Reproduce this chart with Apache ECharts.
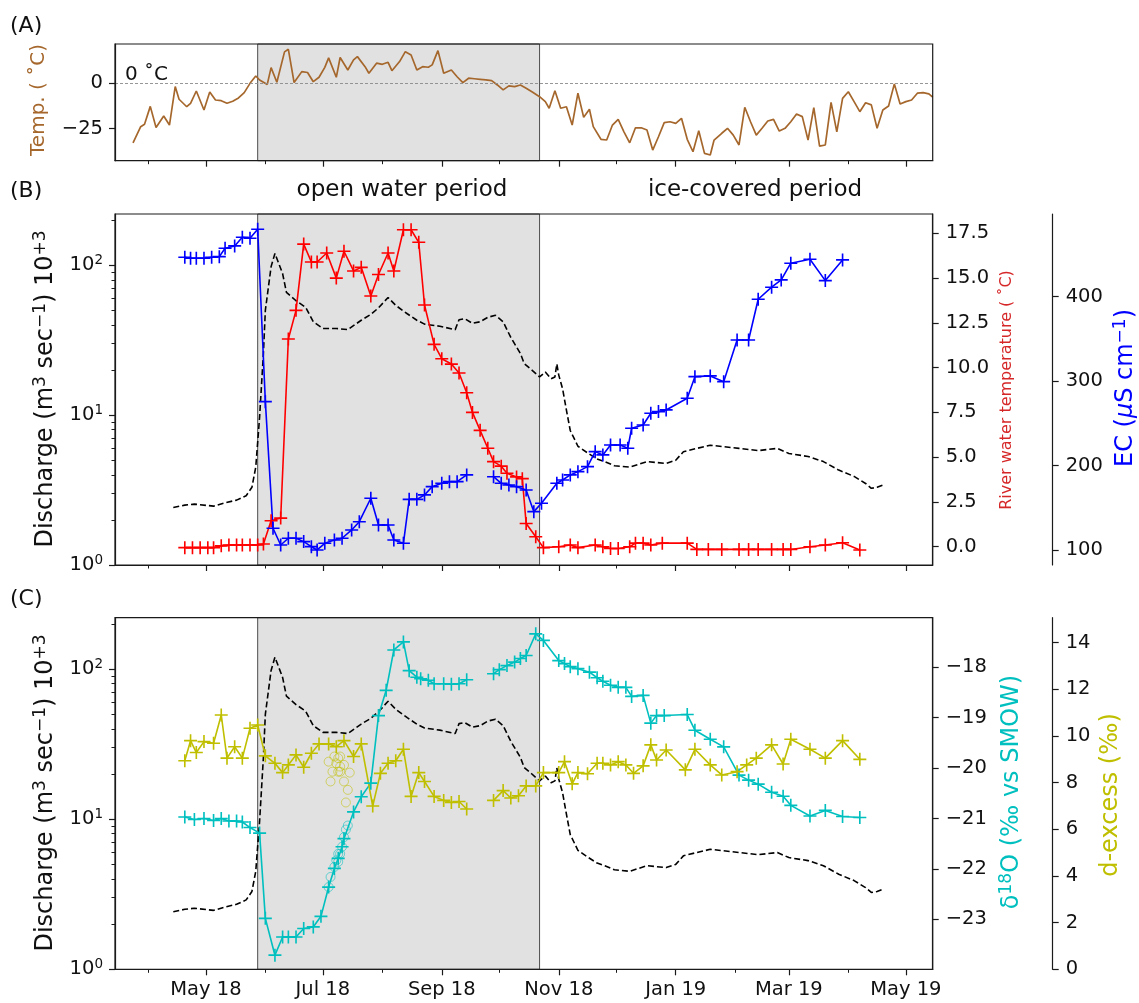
<!DOCTYPE html>
<html><head><meta charset="utf-8">
<script src="https://cdn.jsdelivr.net/npm/echarts@6/dist/echarts.min.js"></script>
<style>html,body{margin:0;padding:0;background:#fff}#c{width:1139px;height:1003px}</style>
</head><body><div id="c"></div>
<script>
// ---------------- DATA ----------------
const monthNames = ['Jan','Feb','Mar','Apr','May','Jun','Jul','Aug','Sep','Oct','Nov','Dec'];
const majorTickDates = ['2018-05-01','2018-07-01','2018-09-01','2018-11-01','2019-01-01','2019-03-01','2019-05-01'];
const minorTickDates = ['2018-04-01','2018-06-01','2018-08-01','2018-10-01','2018-12-01','2019-02-01','2019-04-01'];
const openWaterStart = '2018-05-28';
const openWaterEnd = '2018-10-22';
const airTempTicks = [-25, 0];
const dischargeMajorTicks = [1, 10, 100];
const dischargeMinorTicks = [2,3,4,5,6,7,8,9,20,30,40,50,60,70,80,90,200];
const riverTempTicks = [0, 2.5, 5, 7.5, 10, 12.5, 15, 17.5];
const ecTicks = [100, 200, 300, 400];
const d18OTicks = [-23, -22, -21, -20, -19, -18];
const dExcessTicks = [0, 2, 4, 6, 8, 10, 12, 14];

// (A) air temperature
const airTempDates = ['2018-03-24','2018-03-28','2018-03-30','2018-04-02','2018-04-05','2018-04-09','2018-04-12','2018-04-15','2018-04-17','2018-04-21','2018-04-23','2018-04-26','2018-04-30',
'2018-05-03','2018-05-06','2018-05-09','2018-05-12','2018-05-15','2018-05-18','2018-05-21','2018-05-24','2018-05-27','2018-05-29',
'2018-06-02','2018-06-04','2018-06-07','2018-06-11','2018-06-13','2018-06-16','2018-06-20','2018-06-23','2018-06-26','2018-06-29',
'2018-07-02','2018-07-04','2018-07-08','2018-07-10','2018-07-14','2018-07-17','2018-07-19','2018-07-23','2018-07-25','2018-07-29',
'2018-08-01','2018-08-04','2018-08-06','2018-08-10','2018-08-13','2018-08-16','2018-08-19','2018-08-22','2018-08-25','2018-08-27','2018-08-30',
'2018-09-02','2018-09-06','2018-09-09','2018-09-12','2018-09-15','2018-09-18','2018-09-21','2018-09-24','2018-09-27','2018-09-30',
'2018-10-03','2018-10-06','2018-10-09','2018-10-12','2018-10-15','2018-10-18','2018-10-22','2018-10-25','2018-10-27','2018-10-30',
'2018-11-02','2018-11-05','2018-11-08','2018-11-11','2018-11-14','2018-11-17','2018-11-19','2018-11-23','2018-11-26','2018-11-29',
'2018-12-02','2018-12-05','2018-12-08','2018-12-11','2018-12-14','2018-12-17','2018-12-20','2018-12-23','2018-12-26','2018-12-29',
'2019-01-01','2019-01-04','2019-01-07','2019-01-10','2019-01-13','2019-01-16','2019-01-19','2019-01-21','2019-01-25','2019-01-28','2019-01-31',
'2019-02-03','2019-02-06','2019-02-09','2019-02-12','2019-02-15','2019-02-18','2019-02-21','2019-02-24','2019-02-27',
'2019-03-02','2019-03-05','2019-03-08','2019-03-11','2019-03-14','2019-03-17','2019-03-20','2019-03-23','2019-03-26','2019-03-29',
'2019-04-01','2019-04-04','2019-04-07','2019-04-10','2019-04-13','2019-04-16','2019-04-19','2019-04-22','2019-04-25','2019-04-28',
'2019-05-01','2019-05-04','2019-05-07','2019-05-10','2019-05-13','2019-05-15'];
const airTempValues = [-32.7,-23.9,-22.6,-12.8,-24.3,-18.1,-23.0,-2.0,-8.9,-13.0,-11.1,-4.4,-14.8,
-4.9,-9.3,-9.7,-11.1,-10.0,-8.2,-5.3,-0.2,3.8,1.6,
-0.8,8.4,0.4,17.0,18.4,0.2,6.2,5.7,0.7,3.1,
8.5,13.7,3.1,13.9,7.1,12.6,14.4,8.9,5.3,10.8,
10.2,11.3,6.7,11.7,17.1,15.3,7.1,8.9,8.6,9.9,17.7,
5.3,7.1,3.4,0.2,2.6,2.3,2.0,1.7,1.3,-1.1,
-3.8,-1.6,-2.0,-1.1,-2.9,-4.8,-7.5,-10.2,-13.8,-4.2,
-13.8,-13.0,-23.0,-5.6,-18.8,-14.4,-23.9,-30.8,-31.2,-23.0,
-19.9,-26.7,-32.7,-24.5,-24.5,-25.7,-36.7,-29.4,-21.7,-21.2,
-22.1,-19.3,-30.8,-37.6,-26.1,-38.5,-39.4,-31.2,-27.5,-24.8,-28.5,
-33.9,-13.3,-21.2,-28.5,-24.8,-20.8,-19.9,-26.3,-24.8,
-21.2,-17.0,-18.4,-31.2,-13.5,-34.5,-33.9,-10.6,-26.7,-8.4,
-4.8,-10.2,-15.7,-10.8,-12.0,-24.8,-14.8,-12.6,-0.5,-11.5,
-10.2,-9.3,-5.6,-5.3,-6.0,-7.8];

// discharge (m3/s x 1000), shown in (B) and (C)
const dischargeDates = ['2018-04-14','2018-04-20','2018-04-25','2018-05-05','2018-05-11','2018-05-17','2018-05-22','2018-05-25','2018-05-27','2018-05-29','2018-05-31',
'2018-06-01','2018-06-04','2018-06-06','2018-06-10','2018-06-12','2018-06-17','2018-06-22','2018-06-26',
'2018-07-01','2018-07-08','2018-07-14','2018-07-21','2018-07-26','2018-07-30',
'2018-08-04','2018-08-08','2018-08-14','2018-08-19','2018-08-23','2018-08-31',
'2018-09-08','2018-09-10','2018-09-13','2018-09-17','2018-09-21','2018-09-25','2018-09-29',
'2018-10-03','2018-10-07','2018-10-12','2018-10-14','2018-10-18','2018-10-22','2018-10-25','2018-10-28','2018-10-30','2018-10-31',
'2018-11-01','2018-11-03','2018-11-05','2018-11-07','2018-11-11','2018-11-16','2018-11-21','2018-11-25','2018-11-30',
'2018-12-08','2018-12-17','2018-12-27',
'2019-01-01','2019-01-05','2019-01-12','2019-01-19','2019-02-03','2019-02-13','2019-02-23',
'2019-03-01','2019-03-11','2019-03-19','2019-03-27','2019-04-04','2019-04-10','2019-04-13','2019-04-16','2019-04-19'];
const dischargeValues = [2.42,2.51,2.55,2.47,2.6,2.71,2.9,3.3,4.5,9.7,26,
50,98,120,88,66,58,52.5,42,
37.9,37.9,37.2,43,47,52,
61,54,47.5,43,40.5,39.2,
37.2,43.3,44,41,42,45,46.4,
42,33,25.8,22.1,20,18,19.4,17.5,18,22,
18.5,15,10.8,7.9,6.2,5.6,5.1,4.9,4.6,
4.5,4.9,4.76,
5.0,5.7,6.0,6.3,6.0,5.8,6.0,
5.55,5.3,4.9,4.3,3.9,3.5,3.25,3.3,3.42];

// (B) river water temperature
const riverTempDates = ['2018-04-20','2018-04-24','2018-04-28','2018-05-02','2018-05-05','2018-05-09','2018-05-13','2018-05-17','2018-05-20','2018-05-24','2018-05-28','2018-05-31',
'2018-06-04','2018-06-09','2018-06-13','2018-06-17','2018-06-21','2018-06-25','2018-06-28',
'2018-07-03','2018-07-08','2018-07-12','2018-07-17','2018-07-21','2018-07-26','2018-07-30',
'2018-08-04','2018-08-07','2018-08-12','2018-08-16','2018-08-20','2018-08-23','2018-08-28',
'2018-09-01','2018-09-06','2018-09-10','2018-09-14','2018-09-17','2018-09-21','2018-09-25','2018-09-28',
'2018-10-02','2018-10-05','2018-10-10','2018-10-13','2018-10-15','2018-10-20','2018-10-24',
'2018-11-01','2018-11-07','2018-11-11','2018-11-20','2018-11-24','2018-11-28',
'2018-12-02','2018-12-08','2018-12-11','2018-12-15','2018-12-19','2018-12-25',
'2019-01-07','2019-01-12','2019-01-18','2019-01-25','2019-02-03','2019-02-08','2019-02-13','2019-02-20','2019-02-26',
'2019-03-02','2019-03-12','2019-03-20','2019-03-29','2019-04-07'];
const riverTempValues = [-0.05,-0.05,-0.05,-0.05,-0.05,0.05,0.1,0.1,0.1,0.1,0.1,0.15,
1.45,1.6,11.6,13.2,16.9,15.9,15.9,
16.4,15.0,16.5,15.4,15.6,14.0,15.2,
16.4,15.4,17.7,17.7,17.0,13.5,11.3,
10.5,10.2,9.7,8.6,7.5,6.5,5.5,4.75,
4.5,4.1,3.9,3.8,1.3,0.56,-0.05,
0.0,0.1,-0.05,0.1,0.0,-0.1,
-0.1,0.0,0.2,0.2,0.1,0.2,
0.2,-0.15,-0.15,-0.15,-0.15,-0.15,-0.15,-0.15,-0.15,
-0.15,0.0,0.1,0.22,-0.18];

// (B) electrical conductivity (null = no sampling, line break)
const ecDates = ['2018-04-20','2018-04-23','2018-04-26','2018-04-30','2018-05-04','2018-05-08','2018-05-11','2018-05-16','2018-05-20','2018-05-24','2018-05-28',
'2018-06-01','2018-06-05','2018-06-09','2018-06-13','2018-06-17','2018-06-21','2018-06-25','2018-06-28',
'2018-07-02','2018-07-07','2018-07-11','2018-07-16','2018-07-20','2018-07-26','2018-07-30',
'2018-08-04','2018-08-07','2018-08-12','2018-08-15','2018-08-19','2018-08-23','2018-08-27',
'2018-09-01','2018-09-05','2018-09-09','2018-09-14','2018-09-21','2018-09-28',
'2018-10-02','2018-10-06','2018-10-10','2018-10-15','2018-10-19','2018-10-23','2018-10-31',
'2018-11-03','2018-11-07','2018-11-11','2018-11-16','2018-11-20','2018-11-24','2018-11-28',
'2018-12-03','2018-12-07','2018-12-09','2018-12-15','2018-12-19','2018-12-23','2018-12-27',
'2019-01-07','2019-01-11','2019-01-19','2019-01-26','2019-02-02','2019-02-08','2019-02-13','2019-02-20','2019-02-25',
'2019-03-02','2019-03-12','2019-03-20','2019-03-29'];
const ecValues = [446.8,445.6,445.6,445.6,446.8,447.5,457.4,460.2,470.5,469.3,480,
275.7,125.7,105.9,113.9,113.9,109.9,103.9,100,
107.9,111.8,113.9,123.7,133.5,161.3,129.6,
129.6,111.8,107.9,160,160,165.2,175,
179,180.9,180.9,188.9,null,186.8,
179,177,175,171.1,145.4,155.3,179,
182.9,188.9,192.8,198.7,216.5,212.6,224.4,
224.4,220.5,244.2,248.1,262,263.9,265.9,
279.7,305.3,306.2,299.4,348.8,348.8,397,411.3,419.9,
439.7,444.4,419.1,443.6];

// (C) delta 18O
const d18ODates = ['2018-04-20','2018-04-25','2018-04-30','2018-05-05','2018-05-09','2018-05-13','2018-05-17','2018-05-20','2018-05-24','2018-05-29',
'2018-06-01','2018-06-06','2018-06-10','2018-06-13','2018-06-17','2018-06-21','2018-06-26','2018-06-30',
'2018-07-04','2018-07-07','2018-07-09','2018-07-11','2018-07-12','2018-07-17','2018-07-21','2018-07-26','2018-07-30',
'2018-08-03','2018-08-07','2018-08-12','2018-08-15','2018-08-19','2018-08-21','2018-08-25','2018-08-28',
'2018-09-02','2018-09-06','2018-09-10','2018-09-14','2018-09-21','2018-09-28',
'2018-10-01','2018-10-05','2018-10-09','2018-10-12','2018-10-15','2018-10-20','2018-10-24',
'2018-11-01','2018-11-04','2018-11-07','2018-11-11','2018-11-17','2018-11-21','2018-11-24','2018-11-28',
'2018-12-02','2018-12-06','2018-12-09','2018-12-15','2018-12-19','2018-12-22','2018-12-26',
'2019-01-07','2019-01-11','2019-01-19','2019-01-26','2019-02-03','2019-02-08','2019-02-13','2019-02-20','2019-02-26',
'2019-03-02','2019-03-12','2019-03-20','2019-03-29','2019-04-07'];
const d18OValues = [-20.97,-21.02,-21.0,-21.04,-21.0,-21.05,-21.05,-21.07,-21.18,-21.29,
-22.98,-23.71,-23.35,-23.35,-23.35,-23.18,-23.15,-22.94,
-22.36,-21.99,-21.79,-21.56,-21.4,-20.87,-20.57,-20.3,-18.96,
-18.46,-17.66,-17.5,-18.07,-18.2,-18.23,-18.26,-18.33,
-18.33,-18.34,-18.33,-18.25,null,-18.13,
-18.05,-17.97,-17.9,-17.83,-17.77,-17.34,-17.47,
-17.87,-17.93,-17.99,-18.03,-18.1,-18.21,-18.28,-18.36,
-18.4,-18.4,-18.58,-18.56,-19.11,-18.96,-18.96,
-18.94,-19.25,-19.43,-19.58,-20.14,-20.24,-20.32,-20.48,-20.56,
-20.74,-20.95,-20.84,-20.96,-20.98];

// (C) d-excess
const dExcessDates = ['2018-04-20','2018-04-23','2018-04-26','2018-04-30','2018-05-05','2018-05-09','2018-05-12','2018-05-16','2018-05-20','2018-05-24','2018-05-28',
'2018-06-01','2018-06-06','2018-06-10','2018-06-13','2018-06-17','2018-06-21','2018-06-25','2018-06-29',
'2018-07-04','2018-07-08','2018-07-12','2018-07-17','2018-07-21','2018-07-27','2018-07-31',
'2018-08-04','2018-08-08','2018-08-12','2018-08-16','2018-08-20','2018-08-23','2018-08-28',
'2018-09-02','2018-09-06','2018-09-10','2018-09-14','2018-09-21','2018-09-28',
'2018-10-03','2018-10-07','2018-10-11','2018-10-15','2018-10-20','2018-10-24',
'2018-11-01','2018-11-04','2018-11-08','2018-11-11','2018-11-16','2018-11-21','2018-11-24','2018-11-28',
'2018-12-02','2018-12-06','2018-12-10','2018-12-15','2018-12-19','2018-12-22','2018-12-27',
'2019-01-06','2019-01-11','2019-01-19','2019-01-25','2019-02-02','2019-02-07','2019-02-12','2019-02-20','2019-02-26',
'2019-03-02','2019-03-12','2019-03-20','2019-03-29','2019-04-07'];
const dExcessValues = [8.94,9.8,9.29,9.76,9.69,10.9,9.05,9.54,9.05,10.33,10.47,
9.15,8.83,8.43,8.76,9.19,8.66,9.26,9.66,
9.66,9.54,9.8,9.12,9.66,7.0,8.4,
8.83,8.94,9.43,7.41,8.43,8.05,7.41,
7.24,7.15,7.19,6.87,null,7.24,
7.66,7.34,7.44,7.86,7.86,8.43,
8.43,8.9,7.95,8.43,8.38,8.83,8.83,8.76,
8.9,8.76,8.4,8.72,9.62,8.97,9.4,
8.55,9.43,8.76,8.33,8.47,8.76,9.05,9.62,8.8,
9.86,9.43,9.05,9.8,9.0];

// (C) additional samples (open circles)
const d18OExtraDates = ['2018-07-04','2018-07-05','2018-07-07','2018-07-08','2018-07-09','2018-07-11','2018-07-12','2018-07-13','2018-07-14','2018-07-09','2018-07-10'];
const d18OExtraValues = [-22.36,-22.16,-21.96,-21.83,-21.7,-21.56,-21.37,-21.22,-21.14,-21.86,-21.7];
const dExcessExtraDates = ['2018-07-04','2018-07-07','2018-07-09','2018-07-06','2018-07-09','2018-07-05','2018-07-10','2018-07-12','2018-07-15','2018-07-12','2018-07-14','2018-07-13','2018-07-08','2018-07-10','2018-07-10'];
const dExcessExtraValues = [8.9,9.12,9.05,8.47,8.47,8.05,8.47,8.76,8.43,8.05,7.69,7.15,8.83,9.12,8.69];

// ---------------- CHART ----------------
const FONT = 'DejaVu Sans';
const AX = '#1a1a1a';
const DAY = 864e5;
const t = s => Date.parse(s + 'T00:00:00Z');
const pairs = (d, v) => d.map((s, i) => [t(s), v[i] === null ? '-' : v[i]]);
const xMin = t('2018-05-01') - 47.4 * DAY;
const xMax = t('2019-05-15');
const majorTicks = majorTickDates.map(t);
const minorTicks = minorTickDates.map(t);
const fmtMonth = v => { const d = new Date(v); return monthNames[d.getUTCMonth()] + ' ' + String(d.getUTCFullYear()).slice(2); };
const minus = v => String(v).replace('-', '\u2212');
const PLUS = 'path://M10.5,0h3v10.5h10.5v3h-10.5v10.5h-3v-10.5h-10.5v-3h10.5z';

const C_BROWN = '#a5672c', C_RED = '#ff0000', C_BLUE = '#0000ff', C_CYAN = '#00bfbf', C_OLIVE = '#bfbf00';

function xMain(gi, labels) {
  return {type:'value', gridIndex:gi, position:'bottom', min:xMin, max:xMax, z:10,
    axisLine:{show:true, onZero:false, lineStyle:{color:AX, width:1.2}},
    axisTick:{show:true, length:6, customValues:majorTicks, lineStyle:{color:AX, width:1.2}},
    axisLabel:{show:labels, customValues:majorTicks, formatter:fmtMonth, fontFamily:FONT, fontSize:19.5, color:'#111', margin:11},
    splitLine:{show:false}};
}
function xMinor(gi) {
  return {type:'value', gridIndex:gi, position:'bottom', min:xMin, max:xMax, z:10,
    axisLine:{show:false, onZero:false}, axisTick:{show:true, length:3.5, customValues:minorTicks, lineStyle:{color:AX, width:1}},
    axisLabel:{show:false}, splitLine:{show:false}};
}
function yAxisDef(gi, pos, min, max, ticks, fmt, extra) {
  return Object.assign({type:'value', gridIndex:gi, position:pos, min:min, max:max, z:10,
    axisLine:{show:true, onZero:false, lineStyle:{color:AX, width:1.2}},
    axisTick:{show:true, length:6, customValues:ticks, lineStyle:{color:AX, width:1.2}},
    axisLabel:{customValues:ticks, formatter:fmt, fontFamily:FONT, fontSize:19.5, color:'#111', margin:pos === 'left' ? 12 : 13},
    splitLine:{show:false}}, extra || {});
}
function logMain(gi) {
  return {type:'log', logBase:10, gridIndex:gi, position:'left', min:1, max:220, z:10,
    axisLine:{show:true, onZero:false, lineStyle:{color:AX, width:1.2}},
    axisTick:{show:true, length:6, customValues:dischargeMajorTicks, lineStyle:{color:AX, width:1.2}},
    axisLabel:{customValues:dischargeMajorTicks, margin:12,
      formatter: v => '{b|10}{s|' + Math.round(Math.log10(v)) + '}',
      rich:{b:{fontFamily:FONT, fontSize:19.5, color:'#111', lineHeight:24},
            s:{fontFamily:FONT, fontSize:13.5, color:'#111', lineHeight:14, verticalAlign:'top'}}},
    splitLine:{show:false}};
}
function logMinor(gi) {
  return {type:'log', logBase:10, gridIndex:gi, position:'left', min:1, max:220, z:10,
    axisLine:{show:false, onZero:false}, axisTick:{show:true, length:3.5, customValues:dischargeMinorTicks, lineStyle:{color:AX, width:1}},
    axisLabel:{show:false}, splitLine:{show:false}};
}
const shade = {silent:true, itemStyle:{color:'#e1e1e1', borderColor:'#4d4d4d', borderWidth:1},
  data:[[{xAxis:t(openWaterStart)}, {xAxis:t(openWaterEnd)}]]};

function markerLine(name, xi, yi, data, color) {
  return {type:'line', name, xAxisIndex:xi, yAxisIndex:yi, data, z:3,
    symbol:PLUS, symbolSize:13, symbolKeepAspect:true, showAllSymbol:true, connectNulls:false,
    lineStyle:{color, width:1.6}, itemStyle:{color}, emphasis:{disabled:true}};
}
function dashed(xi, yi) {
  return {type:'line', xAxisIndex:xi, yAxisIndex:yi, data:pairs(dischargeDates, dischargeValues), z:2,
    symbol:'none', lineStyle:{color:'#000', width:1.6, type:[6,3]}, markArea:shade, emphasis:{disabled:true}};
}
function circles(yi, d, v, color) {
  return {type:'scatter', xAxisIndex:4, yAxisIndex:yi, data:pairs(d, v), z:3, symbol:'circle', symbolSize:9,
    itemStyle:{color:'rgba(0,0,0,0)', borderColor:color, borderWidth:1, opacity:0.55}, emphasis:{disabled:true}};
}

const sup = (size, color) => ({fontFamily:FONT, fontSize:Math.round(size*0.7), fill:color, lineHeight:Math.round(size*0.7), verticalAlign:'top'});
function txt(text, x, y, size, color, rot, align, rich) {
  return {type:'text', x, y, rotation:rot || 0, z:20, silent:true,
    style:{text, fill:color, fontSize:size, fontFamily:FONT, align:align || 'center', verticalAlign:'middle',
      textAlign:align || 'center', textVerticalAlign:'middle', lineHeight:size + 4, rich: rich}};
}
const R90 = Math.PI / 2;

const option = {
  animation:false,
  backgroundColor:'#fff',
  grid:[
    {left:115, top:44, width:817.7, height:116.7, show:true, z:10, borderColor:AX, borderWidth:1.2, backgroundColor:'rgba(0,0,0,0)'},
    {left:115, top:214, width:817.7, height:351, show:true, z:10, borderColor:AX, borderWidth:1.2, backgroundColor:'rgba(0,0,0,0)'},
    {left:115, top:617.7, width:817.7, height:351.6, show:true, z:10, borderColor:AX, borderWidth:1.2, backgroundColor:'rgba(0,0,0,0)'}
  ],
  xAxis:[xMain(0,false), xMinor(0), xMain(1,false), xMinor(1), xMain(2,true), xMinor(2)],
  yAxis:[
    yAxisDef(0, 'left', -42.5, 21.3, airTempTicks, minus),
    logMain(1), logMinor(1),
    yAxisDef(1, 'right', -1.02, 18.58, riverTempTicks, v => v.toFixed(1)),
    yAxisDef(1, 'right', 82.2, 498, ecTicks, v => String(v), {offset:120}),
    logMain(2), logMinor(2),
    yAxisDef(2, 'right', -23.99, -17.02, d18OTicks, minus),
    yAxisDef(2, 'right', 0, 15.07, dExcessTicks, v => String(v), {offset:120})
  ],
  series:[
    {type:'line', name:'air temperature', xAxisIndex:0, yAxisIndex:0, data:pairs(airTempDates, airTempValues), z:3,
      symbol:'none', lineStyle:{color:C_BROWN, width:1.7}, emphasis:{disabled:true}, markArea:shade,
      markLine:{silent:true, symbol:['none','none'], label:{show:false}, lineStyle:{type:[3,2], color:'#8a8a8a', width:0.9}, data:[{yAxis:0}]}},
    dashed(2, 1),
    markerLine('river water temperature', 2, 3, pairs(riverTempDates, riverTempValues), C_RED),
    markerLine('EC', 2, 4, pairs(ecDates, ecValues), C_BLUE),
    dashed(4, 5),
    markerLine('d18O', 4, 7, pairs(d18ODates, d18OValues), C_CYAN),
    circles(7, d18OExtraDates, d18OExtraValues, C_CYAN),
    markerLine('d-excess', 4, 8, pairs(dExcessDates, dExcessValues), C_OLIVE),
    circles(8, dExcessExtraDates, dExcessExtraValues, C_OLIVE)
  ],
  graphic:[
    txt('(A)', 10, 26, 22, '#111', 0, 'left'),
    txt('(B)', 10, 191, 22, '#111', 0, 'left'),
    txt('(C)', 10, 599, 22, '#111', 0, 'left'),
    txt('open water period', 402, 190, 23, '#111', 0, 'center'),
    txt('ice-covered period', 755, 190, 23, '#111', 0, 'center'),
    txt('0 \u02DAC', 125, 75, 20, '#111', 0, 'left'),
    txt('Temp. ( \u02DAC)', 39, 100, 20, C_BROWN, R90, 'center'),
    txt('Discharge (m{s|3} sec{s|\u22121}) 10{s|+3}', 46, 389, 24, '#111', R90, 'center', {s:sup(24, '#111')}),
    txt('Discharge (m{s|3} sec{s|\u22121}) 10{s|+3}', 46, 793, 24, '#111', R90, 'center', {s:sup(24, '#111')}),
    txt('River water temperature ( \u02DAC)', 1007, 390, 16, '#d62728', R90, 'center'),
    txt('EC ({i|\u03BC}S cm{s|\u22121})', 1126, 388, 24, C_BLUE, R90, 'center',
      {s:sup(24, C_BLUE), i:{fontFamily:FONT, fontSize:24, fontStyle:'italic', fill:C_BLUE, lineHeight:28}}),
    txt('\u03B4{s|18}O (\u2030 vs SMOW)', 1012, 792, 24, C_CYAN, R90, 'center', {s:sup(24, C_CYAN)}),
    txt('d-excess (\u2030)', 1111, 795, 24, C_OLIVE, R90, 'center')
  ]
};
const chart = echarts.init(document.getElementById('c'), null, {renderer:'canvas'});
chart.setOption(option);
</script>
</body></html>
